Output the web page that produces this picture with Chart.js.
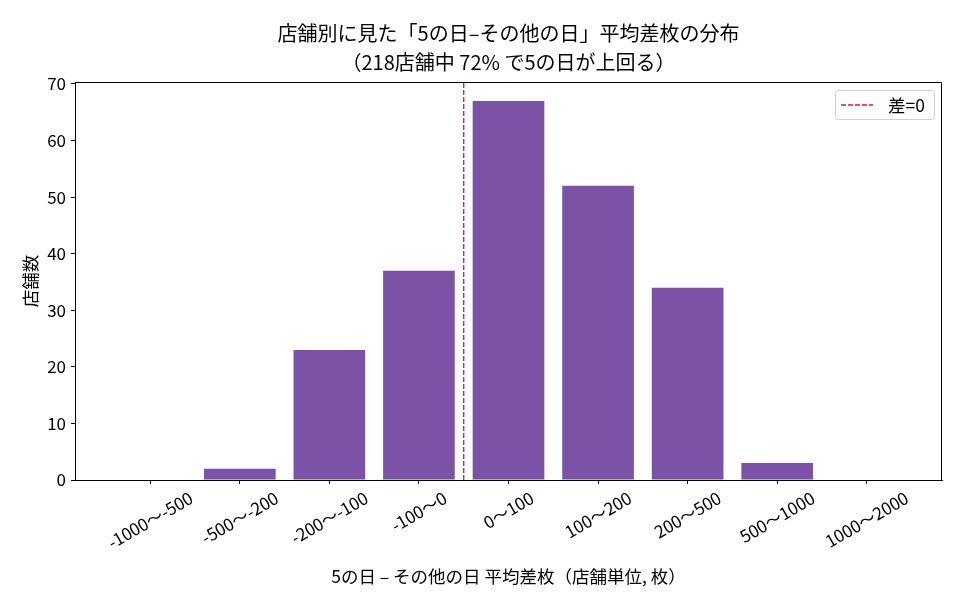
<!DOCTYPE html>
<html>
<head>
<meta charset="utf-8">
<script src="https://cdn.jsdelivr.net/npm/chart.js@4.4.0/dist/chart.umd.min.js"></script>
<style>
  html, body { margin: 0; padding: 0; background: #fff; }
  #wrap { width: 960px; height: 600px; }
</style>
</head>
<body>
<div id="wrap"><canvas id="diffHist"></canvas></div>
<script>
//Setup data
const bins = ["-1000〜-500", "-500〜-200", "-200〜-100", "-100〜0", "0〜100", "100〜200", "200〜500", "500〜1000", "1000〜2000"];
const storeCounts = [0, 2, 23, 37, 67, 52, 34, 3, 0];
const yTicks = [0, 10, 20, 30, 40, 50, 60, 70];
const yMax = 70.35;
const zeroLineX = 3.5; // between "-100~0" and "0~100"
const titleLines = ["店舗別に見た「5の日–その他の日」平均差枚の分布", "（218店舗中 72% で5の日が上回る）"];
const xTitle = "5の日 – その他の日 平均差枚（店舗単位, 枚）";
const yTitle = "店舗数";
const legendLabel = "差=0";

const FONT = '"Noto Sans CJK JP", "Noto Sans", sans-serif';
const barColor = "#7b52a6";
const lineColor = "#dc143c";

//------------------------------------------
//plugin: frame, titles, rotated x labels, legend
const decor = {
  id: 'decor',
  afterDraw(chart) {
    const {ctx, chartArea: {top, bottom, left, right}, scales: {x}} = chart;
    ctx.save();

    // top + right spines
    ctx.strokeStyle = '#000';
    ctx.lineWidth = 1;
    ctx.beginPath();
    ctx.moveTo(left, top + 0.5);
    ctx.lineTo(right - 0.5, top + 0.5);
    ctx.lineTo(right - 0.5, bottom);
    ctx.stroke();

    // title
    ctx.fillStyle = '#000';
    ctx.textAlign = 'center';
    ctx.textBaseline = 'middle';
    ctx.font = '20px ' + FONT;
    const cx = (left + right) / 2;
    ctx.fillText(titleLines[0], cx, 33);
    ctx.fillText(titleLines[1], cx, 62);

    // rotated x tick labels (centered under tick)
    ctx.font = '17px ' + FONT;
    const ang = 30 * Math.PI / 180;
    bins.forEach((lab, i) => {
      const px = x.getPixelForValue(i);
      const w = ctx.measureText(lab).width;
      const h = 15;
      const boxH = w * Math.sin(ang) + h * Math.cos(ang);
      const cy = bottom + 10 + boxH / 2;
      ctx.save();
      ctx.translate(px, cy);
      ctx.rotate(-ang);
      ctx.fillText(lab, 0, 0);
      ctx.restore();
    });

    // axis titles
    ctx.font = '17.5px ' + FONT;
    ctx.fillText(xTitle, cx, 576);
    ctx.save();
    ctx.translate(30, (top + bottom) / 2);
    ctx.rotate(-Math.PI / 2);
    ctx.fillText(yTitle, 0, 0);
    ctx.restore();

    // legend
    const lx = 835, ly = 90, lw = 99, lh = 29;
    ctx.fillStyle = 'rgba(255,255,255,0.8)';
    ctx.strokeStyle = '#d0d0d0';
    ctx.beginPath();
    ctx.roundRect(lx + 0.5, ly + 0.5, lw, lh, 3);
    ctx.fill();
    ctx.stroke();
    ctx.strokeStyle = lineColor;
    ctx.lineWidth = 1.3;
    ctx.setLineDash([5, 2]);
    ctx.beginPath();
    ctx.moveTo(841, ly + lh / 2 + 0.5);
    ctx.lineTo(873, ly + lh / 2 + 0.5);
    ctx.stroke();
    ctx.setLineDash([]);
    ctx.fillStyle = '#000';
    ctx.textAlign = 'left';
    ctx.font = '17.5px ' + FONT;
    ctx.fillText(legendLabel, 888, ly + lh / 2 + 1);

    ctx.restore();
  }
};

//------------------------------------------
//Configuration
const config = {
  data: {
    datasets: [
      {
        type: 'bar',
        label: 'stores',
        data: storeCounts.map((v, i) => ({x: i, y: v})),
        backgroundColor: barColor,
        borderWidth: 0,
        inflateAmount: 0,
        barPercentage: 0.8,
        categoryPercentage: 1.0,
        order: 2
      },
      {
        type: 'line',
        label: legendLabel,
        data: [{x: zeroLineX, y: 0}, {x: zeroLineX, y: yMax}],
        borderColor: lineColor,
        borderWidth: 1.3,
        borderDash: [5, 2],
        pointRadius: 0,
        fill: false,
        order: 1
      }
    ]
  },
  options: {
    responsive: true,
    maintainAspectRatio: false,
    animation: false,
    layout: {padding: {left: 0, right: 18, top: 82, bottom: 0}},
    plugins: {legend: {display: false}, tooltip: {enabled: false}},
    scales: {
      x: {
        type: 'linear',
        min: -0.84,
        max: 8.84,
        offset: false,
        afterBuildTicks: s => { s.ticks = bins.map((b, i) => ({value: i})); },
        afterFit: s => { s.height = 120; },
        ticks: {display: false},
        grid: {offset: false, drawOnChartArea: false, tickLength: 4, tickColor: '#000'},
        border: {color: '#000', width: 1}
      },
      y: {
        type: 'linear',
        min: 0,
        max: yMax,
        afterBuildTicks: s => { s.ticks = yTicks.map(v => ({value: v})); },
        afterFit: s => { s.width = 75; },
        ticks: {color: '#000', font: {family: FONT, size: 17}, padding: 5},
        grid: {drawOnChartArea: false, tickLength: 4, tickColor: '#000'},
        border: {color: '#000', width: 1}
      }
    }
  },
  plugins: [decor]
};

//Render
const diffHist = new Chart(document.getElementById("diffHist"), config);
</script>
</body>
</html>
